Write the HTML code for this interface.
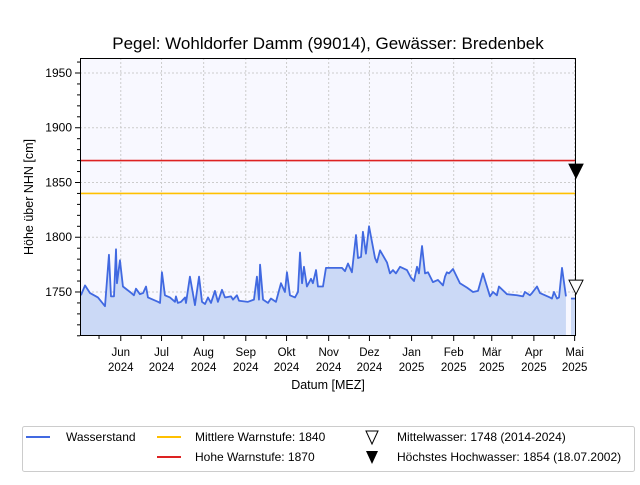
<!DOCTYPE html>
<html><head><meta charset="utf-8"><style>
body{margin:0;background:#fff;}
svg text{font-family:"Liberation Sans",sans-serif;fill:#000;}
</style></head><body>
<svg width="640" height="480" viewBox="0 0 640 480" xmlns="http://www.w3.org/2000/svg">
<rect x="80" y="58" width="496" height="278" fill="#f8f8ff"/>
<g id="grid"></g>
<g id="series"></g>
<g id="axes"></g>
<text x="328" y="49" text-anchor="middle" font-size="17">Pegel:  Wohldorfer Damm (99014), Gewässer:  Bredenbek</text>
<text x="328" y="389" text-anchor="middle" font-size="12.5">Datum [MEZ]</text>
<text transform="translate(33,197) rotate(-90)" text-anchor="middle" font-size="12.5">Höhe über NHN [cm]</text>
<g>
<rect x="22.5" y="426.5" width="612" height="45" fill="#fff" stroke="#ccc" rx="2"/>
<line x1="26" y1="437" x2="50" y2="437" stroke="#4169e1" stroke-width="2"/>
<text x="66" y="441" font-size="12">Wasserstand</text>
<line x1="157" y1="437" x2="181" y2="437" stroke="#ffc000" stroke-width="2"/>
<text x="195" y="441" font-size="12">Mittlere Warnstufe: 1840</text>
<line x1="157" y1="457" x2="181" y2="457" stroke="#dd2222" stroke-width="2"/>
<text x="195" y="461" font-size="12">Hohe Warnstufe: 1870</text>
<polygon points="366,431 378,431 372,444" fill="#fff" stroke="#000" stroke-width="1"/>
<text x="397" y="441" font-size="12">Mittelwasser: 1748 (2014-2024)</text>
<polygon points="366,451 378,451 372,464" fill="#000"/>
<text x="397" y="461" font-size="12">Höchstes Hochwasser: 1854 (18.07.2002)</text>
</g>
</svg>
<script>
const days=[0.7,3.7,7.4,13.2,18.4,21.3,22.8,25,26.5,27.2,29.4,31.6,36.8,39.7,41.2,44.1,46.4,48.6,50,57.4,58.9,60.3,62.5,66.2,69.9,70.6,72,74.3,77.3,78,80.9,84.6,87.6,89.8,92,94.2,96.4,99.3,101.5,104.5,106.7,111.1,112.6,115.5,117,123.6,128,130.2,131.7,132.5,134.7,138.3,140.5,144.2,147.9,150.8,152.3,154.5,158.2,160.4,161.9,163.4,164.8,167,170,171.4,173.7,175.1,178.8,181,189.1,192.8,195,197.2,200.1,203.1,204.6,206.8,208.2,210.4,212.7,217.1,218.5,220.8,225.9,228.1,230.3,232.5,235.5,240.6,243.6,245.8,248,249.4,251.7,253.9,256.1,259.7,263.4,267.1,268.6,270,271.5,274.5,279.6,284.8,289.2,292.9,296.5,301.7,303.9,306.8,308.3,314.2,321.6,326,327.4,331.1,332.6,336.3,338.5,345.8,347.3,348.8,351,352.5,354.7,357.6];
const levels=[1747,1756,1749,1745,1737,1784,1746,1746,1789,1758,1779,1755,1750,1747,1753,1748,1749,1755,1745,1741,1740,1768,1747,1745,1741,1746,1740,1741,1745,1740,1764,1738,1764,1741,1739,1745,1740,1751,1741,1752,1745,1746,1743,1747,1742,1741,1743,1764,1743,1775,1743,1740,1744,1741,1758,1750,1768,1747,1745,1750,1786,1758,1773,1755,1762,1758,1770,1755,1755,1772,1772,1772,1769,1776,1768,1802,1781,1782,1805,1785,1810,1781,1777,1788,1777,1767,1770,1767,1773,1770,1763,1760,1773,1767,1792,1767,1768,1759,1761,1756,1764,1768,1767,1771,1758,1754,1750,1751,1767,1746,1750,1747,1755,1748,1747,1746,1750,1747,1749,1755,1749,1745,1744,1750,1744,1745,1772,1746,1745];
const days2=[361.3,365];
const levels2=[1744,1744];
const monthDays=[30,60,91,122,152,183,213,244,275,303,334,364];
const monthLabels=["Jun","Jul","Aug","Sep","Okt","Nov","Dez","Jan","Feb","Mär","Apr","Mai"];
const yearLabels=["2024","2024","2024","2024","2024","2024","2024","2025","2025","2025","2025","2025"];
const minorDays=[14,45,75,106,137,167,198,228,259,290,318,349];
const yTicks=[1750,1800,1850,1900,1950];
const warnMid=1840, warnHigh=1870, mw=1748, hhw=1854;
const NS="http://www.w3.org/2000/svg";
const X0=80,X1=576,Y0=58,Y1=336,DMAX=365,VMIN=1709.8,VMAX=1963.7;
const sx=d=>X0+d/DMAX*(X1-X0);
const sy=v=>Y1-(v-VMIN)/(VMAX-VMIN)*(Y1-Y0);
function mk(tag,attrs,parent){const e=document.createElementNS(NS,tag);for(const k in attrs)e.setAttribute(k,attrs[k]);parent.appendChild(e);return e;}
const grid=document.getElementById('grid'),ser=document.getElementById('series'),ax=document.getElementById('axes');
monthDays.forEach(d=>{const l=mk('line',{x1:sx(d),x2:sx(d),y1:Y0,y2:Y1,stroke:'#ccc','stroke-dasharray':'2,2','stroke-width':1},grid);});
yTicks.forEach(v=>{const l=mk('line',{x1:X0,x2:X1,y1:sy(v),y2:sy(v),stroke:'#ccc','stroke-dasharray':'2,2','stroke-width':1},grid);});
function area(ds,vs,name){
 let p='M'+sx(ds[0])+','+Y1;ds.forEach((d,i)=>p+=' L'+sx(d)+','+sy(vs[i]));p+=' L'+sx(ds[ds.length-1])+','+Y1+'Z';
 const a=mk('path',{d:p,fill:'#cbd9f6'},ser);
 let q='';ds.forEach((d,i)=>q+=(i?' L':'M')+sx(d)+','+sy(vs[i]));
 const l=mk('path',{d:q,fill:'none',stroke:'#4169e1','stroke-width':1.8,'stroke-linejoin':'round'},ser);
}
area(days,levels,'wasserstand');
area(days2,levels2,'wasserstand-end');
let w=mk('line',{x1:X0,x2:X1,y1:sy(warnMid),y2:sy(warnMid),stroke:'#ffc000','stroke-width':1.6},ser);


w=mk('line',{x1:X0,x2:X1,y1:sy(warnHigh),y2:sy(warnHigh),stroke:'#dd2222','stroke-width':1.6},ser);


function tri(v,fill,name){const cx=X1,cy=sy(v)-7;const t=mk('polygon',{points:(cx-7)+','+(cy-7)+' '+(cx+7)+','+(cy-7)+' '+cx+','+(cy+7),fill:fill,stroke:'#000','stroke-width':1},ax);}
mk('rect',{x:X0+0.5,y:Y0+0.5,width:X1-X0-1,height:Y1-Y0-1,fill:'none',stroke:'#000','stroke-width':1},ax);
monthDays.forEach((d,i)=>{mk('line',{x1:sx(d),x2:sx(d),y1:Y1,y2:Y1+5,stroke:'#000'},ax);
 const t=mk('text',{x:sx(d),y:Y1+20,'text-anchor':'middle','font-size':11.5},ax);t.textContent=monthLabels[i];
 const t2=mk('text',{x:sx(d),y:Y1+35,'text-anchor':'middle','font-size':11.5},ax);t2.textContent=yearLabels[i];});
minorDays.forEach(d=>mk('line',{x1:sx(d),x2:sx(d),y1:Y1,y2:Y1+3,stroke:'#000'},ax));
for(let v=1710;v<=1960;v+=10)mk('line',{x1:X0-(v%50===0?5:3),x2:X0,y1:sy(v),y2:sy(v),stroke:'#000'},ax);
yTicks.forEach(v=>{const t=mk('text',{x:X0-8,y:sy(v)+4,'text-anchor':'end','font-size':12},ax);t.textContent=v;});
tri(mw,'#fff','mittelwasser-marker');
tri(hhw,'#000','hoechstes-hochwasser-marker');
</script>
</body></html>
